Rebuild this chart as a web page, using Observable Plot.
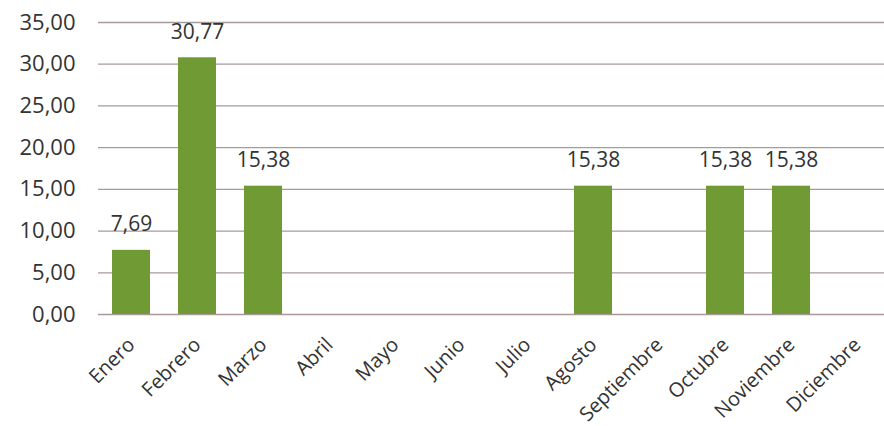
<!DOCTYPE html>
<html><head><meta charset="utf-8">
<script src="https://cdn.jsdelivr.net/npm/d3@7"></script>
<script src="https://cdn.jsdelivr.net/npm/@observablehq/plot@0.6"></script>
<style>body{margin:0;background:#fff}</style>
</head><body><div id="chart"></div>
<script>
const months = ["Enero","Febrero","Marzo","Abril","Mayo","Junio","Julio","Agosto","Septiembre","Octubre","Noviembre","Diciembre"];
const values = [7.69,30.77,15.38,0,0,0,0,15.38,0,15.38,15.38,0];
const yTicks = [0,5,10,15,20,25,30,35];

const data = months.map((m,i)=>({month:m, value:values[i]}));
const fmt = v => v.toFixed(2).replace(".", ",");

const chart = Plot.plot({
  width: 884, height: 426,
  marginLeft: 98, marginRight: 0, marginTop: 22, marginBottom: 112,
  style: {fontFamily: "'Open Sans', sans-serif", color: "#333", background: "#fff"},
  x: {domain: months, range: [98, 890], paddingInner: 0.43, paddingOuter: 0.215, label: null},
  y: {domain: [0, 35], range: [314, 22], label: null},
  marks: [
    Plot.ruleY(yTicks, {stroke: "#a89a9a", strokeWidth: 1.3}),
    Plot.barY(data.filter(d=>d.value>0), {x: "month", y: "value", fill: "#6f9a34"}),
    Plot.text(data.filter(d=>d.value>0), {x: "month", y: "value", text: d=>fmt(d.value), dy: -26, fontSize: 21, fill: "#333"}),
    Plot.axisY(yTicks, {tickFormat: fmt, tickSize: 0, tickPadding: 23, fontSize: 22, fill: "#333"}),
    Plot.axisX({tickSize: 0, tickRotate: -45, tickPadding: 27, fontSize: 20, fill: "#333"})
  ]
});
document.getElementById("chart").append(chart);
</script></body></html>
